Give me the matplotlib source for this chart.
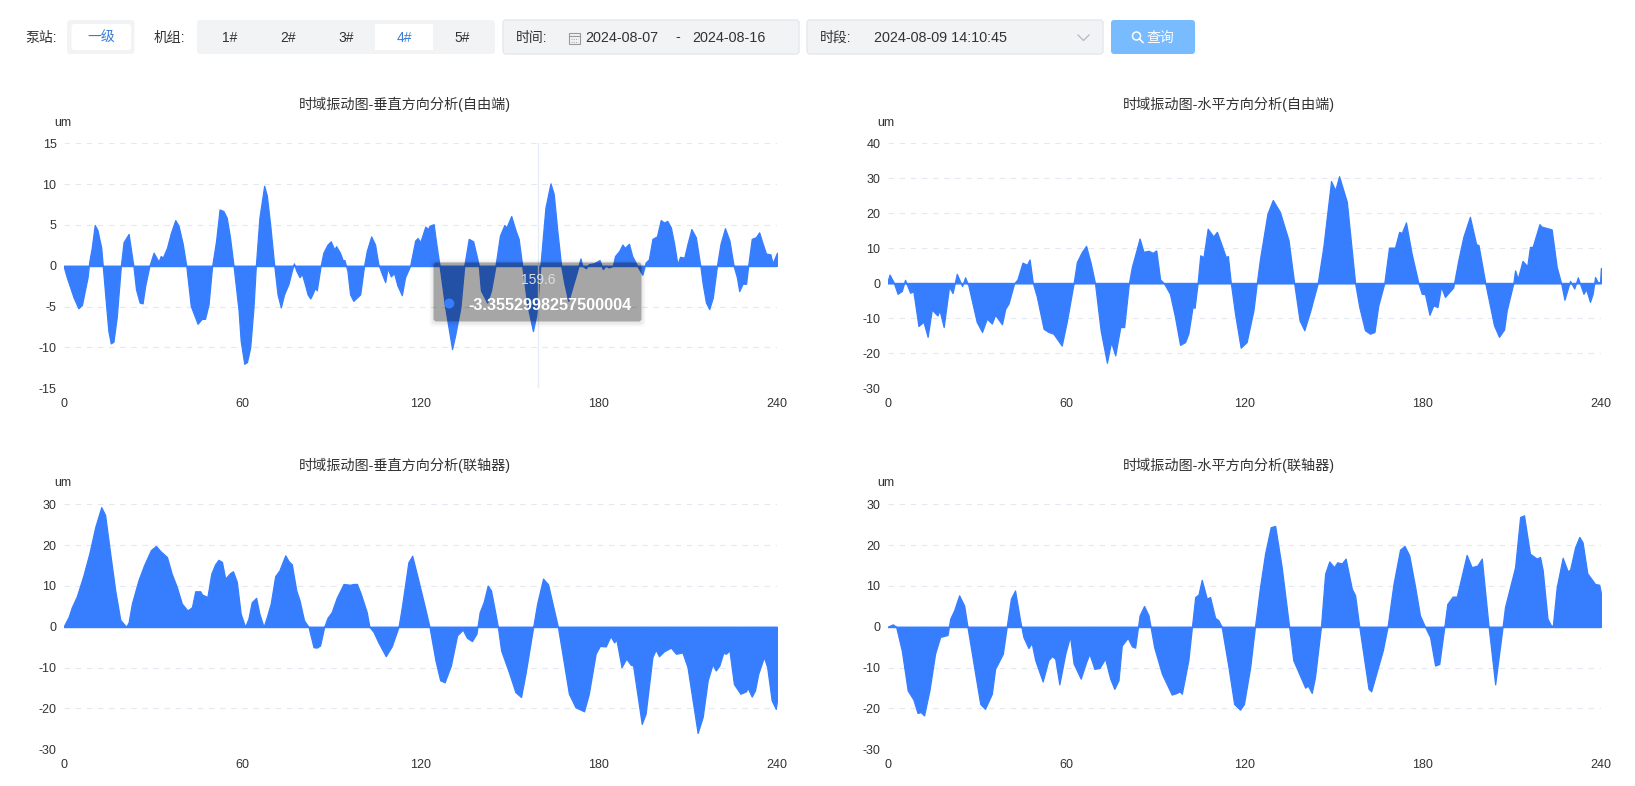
import matplotlib
matplotlib.use('Agg')
import matplotlib.pyplot as plt
from matplotlib.patches import FancyBboxPatch, Rectangle, Circle

plt.rcParams['font.family'] = ['Liberation Sans', 'Noto Sans CJK SC']

W, H = 1635, 786
BLUE = '#377eff'
GRID = '#e4e8f0'
TXT = '#333333'

# vertical direction, free end
x1 = [0,1.1,3.4,5,6.2,8.1,8.7,9.5,10.5,11.4,12.7,13.2,14.3,15.1,15.9,16.8,17.9,19.3,20.2,21.9,22.6,23.5,24.4,25.6,26.6,27.5,28.9,30.3,32,32.7,33.4,34.8,36.1,37.6,38.7,40.1,41.3,42.8,45.1,46.5,47.6,48.8,50,51.3,52.5,53.8,54.9,56,57.2,58.9,59.6,60.8,61.7,62.8,63.9,64.7,65.9,67.5,68.4,69.5,70.9,72,73.1,74.2,75.7,76.8,77.5,78.3,79.4,80.2,81.3,82.1,83,83.7,84.6,85.2,86.5,87.4,88.8,89.9,91.1,91.7,93,93.9,94.5,95.5,96.4,97.5,99.8,101.1,102,103.5,104.8,105.9,107,108.2,109,110.1,111.2,112.3,113.8,114.9,116.6,118.3,119.1,120,121.7,122.6,123.1,124.5,125.4,126.5,128.4,130.7,131.8,133.5,134.8,136.3,137.8,139.1,139.7,140.4,142.5,143.8,145.3,146.8,148.3,149,150.6,152.1,153.1,154.3,156,157.9,159.1,160.4,162.1,163.8,164.9,166.1,167.4,168.5,169.8,171.1,172.8,173.9,174.5,175.7,176.7,178.4,180.3,181.4,182.3,183.5,184.8,185.5,186.9,188,188.8,190.2,191.3,193,194.7,195.8,196.9,198.1,199.6,200.9,202,203.1,204.3,205.4,206.5,207.4,208.8,209.9,211.2,212.7,214.2,215,216.1,217.2,218.4,219.8,221,222.5,224,225.4,226.5,227.3,228.4,229.6,230.3,231.5,232.9,234,235.2,236.3,237.8,238.5,240]
y1 = [0,-1.4,-3.9,-5.2,-4.8,-1.4,0.6,2.2,5,4.4,2.2,0,-4.7,-8,-9.5,-9.3,-6.3,0,2.9,3.9,2.2,0,-2.9,-4.5,-4.6,-2.4,0,1.6,0.5,1.2,1,2.2,4,5.6,4.9,2.7,0,-4.9,-7.1,-6.5,-6.5,-4.7,0,3,6.9,6.7,5.9,3.5,0,-5.5,-9.2,-12,-11.8,-10,-5.1,0,5.9,9.8,8.6,5.1,0,-3.5,-5.1,-3.5,-2.2,-0.6,0.3,-0.6,-1.4,-1,-2.4,-3.5,-4,-3.5,-2.7,-3,0,1.6,2.6,3,2,2.4,1.6,0.7,0.7,-0.6,-3.5,-4.3,-3.5,0,1.8,3.6,2.6,0.2,-0.9,-2,-0.3,-1.3,-0.9,-2.4,-3.6,-1.4,0,3.1,3.4,2.9,4.8,4.5,4.9,5.1,2.7,0,-5.1,-10.2,-8.4,-5.1,0,3.3,3,1,0,-3,-4.5,-3,0,3.7,5,4.7,6.1,4.3,3.3,0,-4.7,-8,-5.9,0,7.1,10.1,8.8,4.3,0,-2.2,-4.3,-2.7,-0.6,0.9,0,-0.3,0.2,0.3,0.7,-0.4,0,-0.2,0,1.2,1.8,2.6,2.2,2.7,1.2,0,-1.1,0.4,0.8,3.3,3.6,5.6,5.3,5.5,4.7,2.7,0.2,1.1,1,2.7,4.5,3.5,0,-2.2,-4.5,-5.3,-3.9,0,2.7,4.6,3.1,0,-1.4,-3.1,-2.2,-2.2,0,3.3,3.5,4.1,2.7,1.5,1.4,0.3,1.6]

# horizontal direction, free end
x2 = [0,0.7,2,3.4,4.8,5.9,7.6,8.7,10.4,12.1,13.5,14.9,16.8,17.5,18.9,20.7,21.9,23.3,25.1,26.1,27.2,30,31.8,33.4,35.1,36.2,38.5,39.6,40.7,42.6,43.7,45.4,46.9,47.8,48.9,50.2,52.5,54.1,55.8,58.6,60.3,62.6,63.7,65.4,66.8,68.4,69.8,71.7,73.8,75.2,76.6,78.3,79.6,81.2,82.2,83.6,84.8,86.1,87.8,89.2,90.4,91.7,93,95,96.7,98.4,100.1,101.2,102.6,103.3,104.3,105.2,106.3,107.7,109.6,110.8,112.4,113.8,114.5,115.5,116.9,118.8,120.8,123.1,124.2,125.3,127.8,129.6,132,134.9,136.8,138.6,140.2,142.1,144.7,146.6,149.2,150.6,151.9,154.5,157.3,158.7,160.6,162.3,163.8,165.1,167.1,168.7,170.7,172.1,173,174.4,176.3,178.6,179.7,180.8,182.3,183.6,185,186.2,187.5,190.3,192,193.7,195.9,198,198.8,201.1,202.5,204,205.7,207.4,208.3,210.5,211.1,212,213.6,215.2,216.1,217,219.3,220,223.4,225.1,226.6,227.7,229.6,231,232.2,234.1,235,236.3,237.2,238,238.9,239.7,240]
y2 = [0.5,2.5,0.4,-3,-2.2,1,-2.7,-2.3,-12.2,-11,-15.3,-7.5,-9.2,-7.7,-12.5,-1,-2.8,2.7,-0.8,1.7,-0.6,-11,-13.9,-10.1,-11.5,-9,-11.7,-7.3,-5.8,0,1.1,5.9,5.3,6.8,0,-3.7,-13,-13.9,-14.4,-17.8,-11,0,6.1,9,10.7,5.6,0,-13.5,-22.7,-16.8,-20.6,-12.5,-12.5,0,4.7,9,12.8,9,9.3,8.7,9.4,1.1,0,-3,-9.6,-17.6,-16.8,-14.4,-6.8,-7,0,8,7.5,15.6,13.4,14.7,10.9,7.5,7.8,0,-8.7,-18.4,-16.8,-7.7,0,7,19.9,23.8,20.4,12.3,0,-10.6,-13.4,-8.2,0,10.4,29.2,26.6,30.6,23.3,0,-6.8,-13.4,-14.4,-13.9,-6.3,0,10.2,10.2,14.7,14.4,17.4,8.5,0,-3,-3.1,-9,-6.3,-6.8,-0.9,-3.9,-1.2,6.6,13.3,19,11.2,10.9,0,-5.8,-12,-15.3,-13.2,-7.7,0,3.7,1.3,6.4,4.9,10.4,10.4,16.9,16.2,15.4,4.7,0,-4.7,0.7,-1.5,1.7,-3,-1.7,-5.3,-3,1.8,0.3,0.3,4.4]

# vertical direction, coupling
x3 = [0,1.7,2.8,4.5,6.7,8.7,10.7,12.7,14,15.7,17.4,19.1,21.1,21.9,23,25.2,27.1,29.4,31.1,32.5,34.8,36.4,38.1,39.8,41.7,43.2,44.3,46,46.6,48.4,49.7,51,52.1,53.3,54.4,56.1,57,58.3,59.6,61.1,62.2,63.3,64.8,65.9,67.3,68.4,69.7,71.2,72.6,74.6,75.7,76.8,78.3,79.4,80.9,82.4,84.1,85.2,86.3,87.7,88.8,90.2,91.9,94.2,96.4,97.5,98.7,100,102,102.9,104.3,105.9,108.4,110.4,112.7,113.8,116,117.3,119.4,121.7,123.1,125.1,126.7,128.2,130.3,132.4,134.3,135.7,137.4,138.9,140,141.3,142.7,143.8,145.3,146.1,147.2,149.8,152,153.9,155.4,158,159.3,161.3,163,166.3,167.8,170,172.2,175.1,176.7,179,180.4,182.4,184,185.2,186,187.7,189.3,190.8,191.6,194.5,195.8,198.1,199.2,200.3,202,204.3,206,208.2,209.9,213.3,215,216.7,218.3,219.4,220.6,221.9,222.8,224,225.5,227.7,229.6,230.1,231.5,232.6,233.7,235.6,236.7,238.2,239.6,240]
y3 = [0,2.4,4.8,7.5,12.6,18,24.5,29.3,27.4,18,8.9,1.7,0,1.1,5.7,11.4,15.1,18.8,19.8,18.6,17.1,13,9.8,5.7,4,4.8,8.7,8.7,7.9,7.3,13,15.3,16.4,15.9,11.8,13.2,13.6,11,3.2,0,2,6,7.1,3.2,0,2.4,5.7,12.4,13.8,17.5,16.1,15.3,8.9,6.5,1.6,0,-5,-5.1,-4.6,0,2.2,3.6,7.1,10.5,10.3,10.5,10.5,8.1,3.6,0,-1.3,-3.8,-7.2,-4.8,0,4.8,15.8,17.4,11.3,4.4,0,-8.2,-13.1,-13.6,-9.5,-2.1,-0.7,-2.7,-3.5,-1.7,3.6,6,10.1,8.9,3.2,0,-5.8,-11.1,-16,-17.2,-11.5,0,5.6,11.8,10.4,0,-6.6,-16.4,-19.7,-20.7,-16.4,-6.6,-4.7,-4.8,-2.3,-3.8,-3.2,-9.9,-7.8,-9.3,-9.5,-23.8,-21.3,-7.4,-5.6,-7.2,-6,-5.1,-6.6,-6.3,-9.9,-26,-22.1,-13.1,-9.2,-10.7,-9.5,-6.4,-6.6,-5.8,-14,-16.4,-15.8,-14.9,-17.1,-15.6,-11.5,-7.4,-9.9,-18,-20.1,-18]

# horizontal direction, coupling
x4 = [0,1.8,2.9,4.8,6.8,8.7,10.1,11.2,12.3,14.1,16,17.7,20.2,21.1,22.4,24.1,25.8,26.9,29.5,31.2,32.8,35.1,36.2,38.8,40.1,41.5,42.9,44.6,45.7,47.4,48.5,49.7,52.2,54.1,55.3,56.4,57.8,59.8,61.4,62.6,65,66.8,67.9,69.6,71.3,73.2,74.9,76.3,77.7,78.8,80.8,82.2,83.3,84.8,86.3,87.8,89.7,92.3,95.6,97.3,98.2,99,101.2,102.4,103.5,104.6,105.7,107.4,108.5,110.2,111.3,112.4,114.7,116.6,118.6,119.9,122,123.6,125.3,127,128.9,130.4,132.6,135.1,136.5,140.5,141.4,142.7,143.8,145.8,147.2,148.6,150.2,151.3,152.8,154.1,156.2,157.3,158.7,161.8,162.7,166.6,168.2,170.2,172.4,173.9,175.5,177.5,179.1,180.8,182.5,184.2,185.6,187.3,188.3,190.1,191.5,194.8,196.5,198.4,199.9,202.2,204.4,206.9,207.7,211.1,212.8,214.1,216.1,218.4,219.5,220.4,222,223.2,223.8,225.1,227.1,228.8,229.6,231.3,232.7,233.8,235.4,238,239.4,240]
y4 = [0,0.6,0,-5.8,-15.6,-17.8,-21.1,-20.9,-21.7,-15.6,-6.6,-2.5,-2,2,4,7.7,5.2,0,-11.5,-18.9,-20.1,-16.4,-10.3,-6.6,0,6.9,8.9,1.6,-2.5,-5.2,-4,-8.2,-13.4,-8.2,-7.2,-7.8,-14.1,-6.6,-2.3,-9,-12.7,-8.7,-6.6,-10.3,-10.1,-7.8,-12.7,-15.2,-13.1,-4.6,-2.7,-4.8,-5.1,2.8,5.1,2.8,-5,-11.5,-16.6,-16.2,-15.8,-16.4,-8.2,0,7.3,7.9,11.5,6.9,7.3,2.2,1.6,0,-9.9,-18.9,-20.3,-18.9,-9.9,0,9.7,17.9,24.4,24.7,14.6,0,-8.2,-14.9,-14.4,-16.2,-12.3,0,13,16,14.6,15.8,15.5,16.7,9.3,7.7,0,-15.2,-15.8,-5.8,0,10.5,18.9,19.8,17.5,9.7,2.8,0,-2.5,-9.5,-9.1,0,5.6,7.4,7.4,17.6,14.6,15,16.7,0,-14.1,0,4.8,14.6,26.9,27.3,17.9,16.7,17.1,13.8,2,0.3,0.3,9.7,16.9,13.6,14,19.5,22,20.7,13.1,10.5,10.3,8.1]

titles = ['时域振动图-垂直方向分析(自由端)', '时域振动图-水平方向分析(自由端)',
          '时域振动图-垂直方向分析(联轴器)', '时域振动图-水平方向分析(联轴器)']
xticks = [0, 60, 120, 180, 240]
yticks1 = [-15, -10, -5, 0, 5, 10, 15]
yticks2 = [-30, -20, -10, 0, 10, 20, 30, 40]
yticks3 = [-30, -20, -10, 0, 10, 20, 30]
units = ['泵站:', '机组:', '时间:', '时段:']
pump = '一级'
machines = ['1#', '2#', '3#', '4#', '5#']
date_start = '2024-08-07'
date_end = '2024-08-16'
period = '2024-08-09 14:10:45'
tip_x = 159.6
tip_val = '-3.3552998257500004'


def make_axes(fig, left, right, top, bottom):
	return fig.add_axes([left/W, 1-bottom/H, (right-left)/W, (bottom-top)/H])


def draw_chart(fig, box, xs, ys, yticks, title, title_x, title_y, um_x, um_y):
	ax = make_axes(fig, *box)
	ax.fill_between(xs, ys, 0, color=BLUE, lw=0.9, joinstyle='round', zorder=3)
	ax.axhline(0, color=BLUE, lw=1, zorder=3)
	ax.set_xlim(0, 240)
	ax.set_ylim(yticks[0], yticks[-1])
	ax.set_xticks(xticks)
	ax.set_yticks(yticks)
	ax.set_yticklabels([str(v) for v in yticks])
	ax.grid(axis='y', color=GRID, lw=0.8, ls=(0, (5, 5)), zorder=1)
	ax.tick_params(length=0, labelsize=9, labelcolor=TXT)
	ax.tick_params(axis='x', pad=7)
	ax.tick_params(axis='y', pad=5)
	for s in ax.spines.values():
		s.set_visible(False)
	fig.text(title_x/W, 1-title_y/H, title, ha='center', va='center', fontsize=10.2, color=TXT)
	fig.text(um_x/W, 1-um_y/H, 'um', ha='left', va='center', fontsize=9, color=TXT)
	return ax


def round_box(ov, x0, y0, x1_, y1_, color, edge='none', r=3, zorder=2, alpha=None):
	p = FancyBboxPatch((x0+r, y0+r), x1_-x0-2*r, y1_-y0-2*r, boxstyle='round,pad=%d,rounding_size=%d' % (r, r),
		fc=color, ec=edge, lw=1, zorder=zorder, alpha=alpha)
	ov.add_patch(p)


fig = plt.figure(figsize=(W/100, H/100), dpi=100, facecolor='white')

ax1 = draw_chart(fig, (63.5, 777, 143.3, 388.3), x1, y1, yticks1, titles[0], 405, 104.5, 54, 122.5)
ax2 = draw_chart(fig, (887.5, 1601, 143.3, 388.3), x2, y2, yticks2, titles[1], 1229, 104.5, 877.5, 122.5)
ax3 = draw_chart(fig, (63.5, 777, 504.3, 749.3), x3, y3, yticks3, titles[2], 405, 465.5, 54, 483.5)
ax4 = draw_chart(fig, (887.5, 1601, 504.3, 749.3), x4, y4, yticks3, titles[3], 1229, 465.5, 877.5, 483.5)

# crosshair of the hovered point
ax1.axvline(tip_x, color='#e6ebf8', lw=1, zorder=4)

# overlay in pixel coords for toolbar and tooltip
ov = fig.add_axes([0, 0, 1, 1], zorder=10)
ov.set_xlim(0, W)
ov.set_ylim(H, 0)
ov.axis('off')
ov.patch.set_alpha(0)

cy = 37
fs = 10
fl = 10.4
cj = cy + 1
ov.text(25, cj, units[0], fontsize=fs, color=TXT, va='center')
round_box(ov, 67, 20, 134.5, 54, '#f2f3f5')
round_box(ov, 71.5, 24, 131, 50, 'white', zorder=3)
ov.text(101, cj, pump, fontsize=fs, color='#3a7bd5', ha='center', va='center', zorder=4)

ov.text(154, cj, units[1], fontsize=fs, color=TXT, va='center')
round_box(ov, 197, 20, 495, 54, '#f2f3f5')
ov.add_patch(Rectangle((375, 24), 58, 26, fc='white', ec='none', zorder=3))
for name, mx in zip(machines, [230, 288, 346, 404, 462]):
	c = '#3a7bd5' if name == '4#' else TXT
	ov.text(mx, cy+0.5, name, fontsize=fs, color=c, ha='center', va='center', zorder=4)

round_box(ov, 503, 20, 799, 54, '#f2f3f5', edge='#e4e7ed')
ov.text(516, cj, units[2], fontsize=fs, color=TXT, va='center')
# calendar icon
ov.add_patch(Rectangle((569, 33), 11, 11, fc='none', ec='#9a9a9a', lw=0.8, zorder=4))
ov.plot([569, 580], [35.5, 35.5], color='#9a9a9a', lw=0.8, zorder=4)
ov.plot([571, 578], [39, 39], color='#b0b0b0', lw=0.8, ls=(0, (1, 1)), zorder=4)
ov.plot([571, 578], [41.5, 41.5], color='#b0b0b0', lw=0.8, ls=(0, (1, 1)), zorder=4)
ov.text(585, cy+0.5, date_start, fontsize=fl, color=TXT, va='center')
ov.text(678, cy+0.5, '-', fontsize=fl, color=TXT, ha='center', va='center')
ov.text(692, cy+0.5, date_end, fontsize=fl, color=TXT, va='center')

round_box(ov, 807, 20, 1103, 54, '#f2f3f5', edge='#e4e7ed')
ov.text(820, cj, units[3], fontsize=fs, color=TXT, va='center')
ov.text(874, cy+0.5, period, fontsize=fl, color=TXT, va='center')
ov.plot([1078, 1083.5, 1089], [35, 40.5, 35], color='#b4b8c0', lw=0.9)

round_box(ov, 1111, 20, 1195, 54, '#79bbff')
ov.add_patch(Circle((1136.5, 36), 4, fc='none', ec='white', lw=1.1, zorder=4))
ov.plot([1139.5, 1143], [39, 42.5], color='white', lw=1.1, zorder=4)
ov.text(1146, cj, '查询', fontsize=fs, color='white', va='center', zorder=4)

# tooltip
for g, a in [(4, 0.03), (2, 0.05)]:
	round_box(ov, 433.5-g, 262.5-g+1, 641.5+g, 321.5+g+1, 'black', r=4, zorder=5, alpha=a)
round_box(ov, 433.5, 262.5, 641.5, 321.5, 'black', r=3, zorder=6, alpha=0.29)
ov.text(538, 280, str(tip_x), fontsize=10, color='#dddddd', ha='center', va='center', zorder=7)
ov.add_patch(Circle((449.3, 303.5), 5, fc=BLUE, ec='none', zorder=7))
ov.text(468, 305, tip_val, fontsize=11.7, color='white', fontweight='bold', va='center', zorder=7)

fig.savefig('out.png', dpi=100)
